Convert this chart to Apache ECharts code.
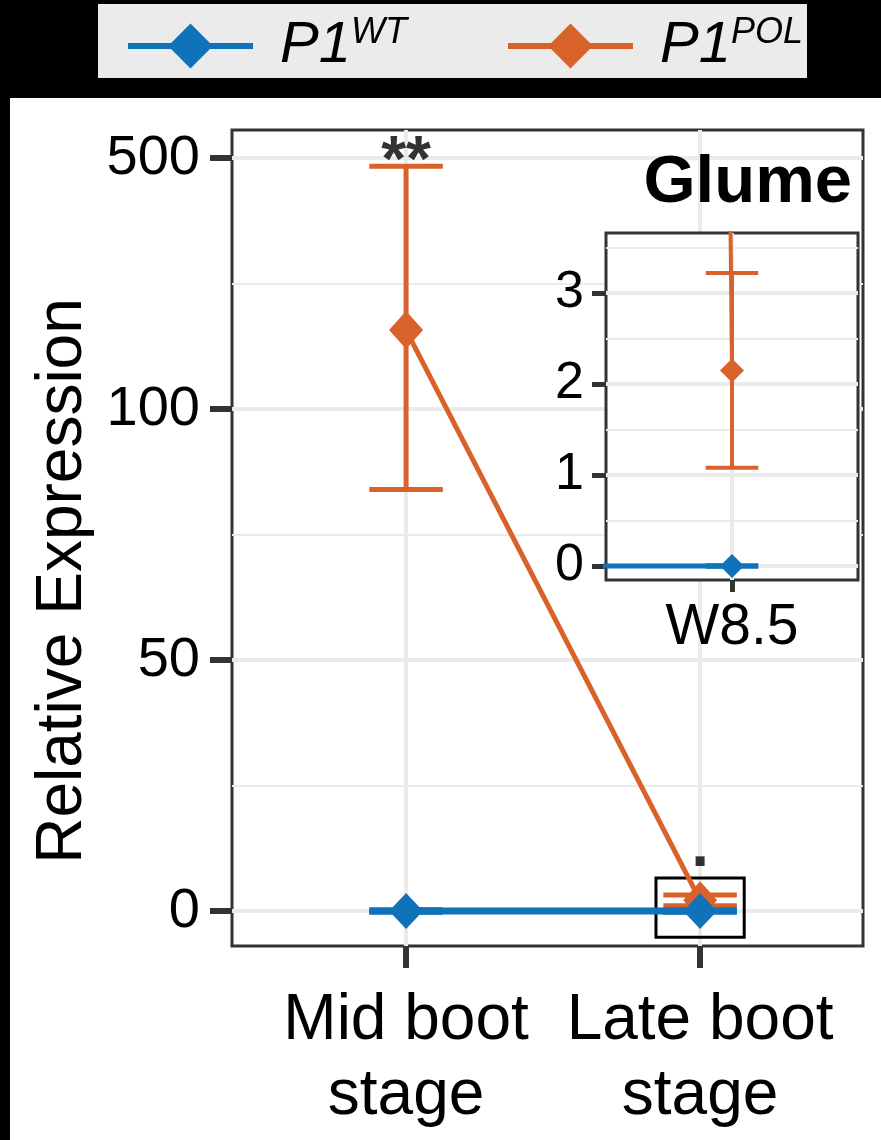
<!DOCTYPE html>
<html>
<head>
<meta charset="utf-8">
<title>Glume relative expression</title>
<script src="https://cdn.jsdelivr.net/npm/echarts@6/dist/echarts.min.js"></script>
<style>
  html, body { margin: 0; padding: 0; background: #000; }
  #chart { width: 881px; height: 1140px; }
</style>
</head>
<body>
<div id="chart"></div>
<script>
// stages (main panel positions 1, 2) and the single inset stage
const stages = ['Mid boot\nstage', 'Late boot\nstage'];
const stageX = [1, 2];
const insetStage = 'W8.5';
const insetX = [0, 1];

// series names and legend text (base + superscript)
const seriesNames = ['P1WT', 'P1POL'];
const legendBase = ['P1', 'P1'];
const legendSup = ['WT', 'POL'];

// P1 WT
const wtMean = [0, 0];
const wtLow = [0, 0];
const wtHigh = [0, 0];

// P1 POL
const polMean = [226, 2.15];
const polLow = [84, 1.08];
const polHigh = [487, 3.22];

// significance marks above P1 POL
const signif = ['**', '.'];

// y axis breaks of the main panel (drawn equally spaced)
const yTicks = [0, 50, 100, 500];
const yMinor = [25, 75, 300];
const insetTicks = [0, 1, 2, 3];
const insetMinor = [0.5, 1.5, 2.5, 3.5];

// box around the late boot point that the inset zooms into
const zoomX = [1.85, 2.15];
const zoomY = [-5.2, 6.6];

const FONT = '"Liberation Sans", Arial, Helvetica, sans-serif';
const BLUE = '#1072b8';
const ORANGE = '#d9622a';
const INK = '#333333';
const GRID = '#ebebeb';

// piecewise linear scale: each break interval gets the same height
function t(v) {
  const b = yTicks;
  let i = 0;
  while (i < b.length - 2 && v > b[i + 1]) i++;
  return i + (v - b[i]) / (b[i + 1] - b[i]);
}
const ident = v => v;

function errorBars(name, color, xs, low, high, scale, gridIdx, yIdx, lw, z) {
  return {
    type: 'custom',
    name: name,
    xAxisIndex: gridIdx,
    yAxisIndex: yIdx,
    clip: true,
    silent: true,
    z: z,
    data: xs.map((x, i) => [x, scale(low[i]), scale(high[i])]),
    encode: { x: 0, y: [1, 2] },
    renderItem(params, api) {
      const x = api.value(0);
      const lo = api.coord([x, api.value(1)]);
      const hi = api.coord([x, api.value(2)]);
      const half = api.coord([x + 0.125, api.value(1)])[0] - lo[0];
      const style = { stroke: color, lineWidth: lw };
      return {
        type: 'group',
        children: [
          { type: 'line', shape: { x1: lo[0], y1: lo[1], x2: hi[0], y2: hi[1] }, style },
          { type: 'line', shape: { x1: lo[0] - half, y1: lo[1], x2: lo[0] + half, y2: lo[1] }, style },
          { type: 'line', shape: { x1: hi[0] - half, y1: hi[1], x2: hi[0] + half, y2: hi[1] }, style }
        ]
      };
    }
  };
}

function meanLine(name, color, xs, mean, scale, gridIdx, yIdx, lw, size, z) {
  return {
    type: 'line',
    name: name,
    xAxisIndex: gridIdx,
    yAxisIndex: yIdx,
    clip: true,
    z: z,
    data: xs.map((x, i) => [x, scale(mean[i])]),
    symbol: 'diamond',
    symbolSize: size,
    showAllSymbol: true,
    itemStyle: { color: color },
    lineStyle: { color: color, width: lw },
    emphasis: { disabled: true }
  };
}

function legendFor(i, left) {
  return {
    data: [seriesNames[i]],
    left: left,
    top: 10,
    itemWidth: 125,
    itemHeight: 56,
    selectedMode: false,
    lineStyle: { width: 6 },
    formatter: () => '{b|' + legendBase[i] + '}{s|' + legendSup[i] + '}',
    textStyle: {
      padding: [0, 0, 0, 22],
      rich: {
        b: { fontFamily: FONT, fontStyle: 'italic', fontSize: 58, color: '#000', lineHeight: 62 },
        s: { fontFamily: FONT, fontStyle: 'italic', fontSize: 36, color: '#000', lineHeight: 36, verticalAlign: 'top' }
      }
    }
  };
}

const chart = echarts.init(document.getElementById('chart'));

const option = {
  backgroundColor: '#000',
  animation: false,
  graphic: [
    { type: 'rect', z: -10, shape: { x: 10, y: 98, width: 871, height: 1042 }, style: { fill: '#fff' } },
    { type: 'rect', z: -10, shape: { x: 98, y: 4, width: 709, height: 74 }, style: { fill: '#ebebeb' } }
  ],
  title: {
    text: 'Glume',
    right: 24,
    top: 145,
    textStyle: { fontFamily: FONT, fontWeight: 'bold', fontSize: 67, color: '#000' }
  },
  legend: [legendFor(0, 120), legendFor(1, 500)],
  grid: [
    { left: 232, top: 130, width: 631, height: 816, show: true, backgroundColor: '#fff', borderColor: INK, borderWidth: 3, z: 0 },
    { left: 606, top: 233, width: 252, height: 347, show: true, backgroundColor: '#fff', borderColor: INK, borderWidth: 3, z: 3 }
  ],
  xAxis: [
    {
      type: 'value', gridIndex: 0, min: 0.408, max: 2.554,
      axisLine: { show: false, onZero: false },
      axisTick: { customValues: stageX, length: 22, lineStyle: { color: INK, width: 6 } },
      axisLabel: {
        customValues: stageX,
        formatter: v => stages[stageX.indexOf(v)],
        margin: 38, fontFamily: FONT, fontSize: 64, lineHeight: 75, color: '#000'
      },
      splitLine: { show: true, lineStyle: { color: GRID, width: 4 } }
    },
    {
      type: 'value', gridIndex: 1, min: 0.4, max: 1.6, z: 4,
      axisLine: { show: false, onZero: false },
      axisTick: { customValues: [insetX[1]], length: 12, lineStyle: { color: INK, width: 5 } },
      axisLabel: {
        customValues: [insetX[1]],
        formatter: () => insetStage,
        margin: 20, fontFamily: FONT, fontSize: 57, color: '#000'
      },
      splitLine: { show: true, lineStyle: { color: GRID, width: 4 } }
    }
  ],
  yAxis: [
    {
      type: 'value', gridIndex: 0, min: -0.139, max: 3.112,
      name: 'Relative Expression', nameLocation: 'middle', nameGap: 134,
      nameTextStyle: { fontFamily: FONT, fontSize: 64, color: '#000', padding: [0, 86, 0, 0] },
      axisLine: { show: false, onZero: false },
      axisTick: { customValues: yTicks.map(t), length: 22, lineStyle: { color: INK, width: 6 } },
      axisLabel: {
        customValues: yTicks.map(t),
        formatter: v => String(yTicks[yTicks.map(t).findIndex(p => Math.abs(p - v) < 1e-6)]),
        margin: 32, fontFamily: FONT, fontSize: 56, color: '#000'
      },
      splitLine: { show: true, lineStyle: { color: GRID, width: 4 } }
    },
    {
      type: 'value', gridIndex: 0, min: -0.139, max: 3.112, position: 'right',
      axisLine: { show: false, onZero: false },
      axisTick: { show: false, customValues: yMinor.map(t) },
      axisLabel: { show: false },
      splitLine: { show: true, lineStyle: { color: GRID, width: 2 } }
    },
    {
      type: 'value', gridIndex: 1, min: -0.154, max: 3.66, z: 4,
      axisLine: { show: false, onZero: false },
      axisTick: { customValues: insetTicks, length: 14, lineStyle: { color: INK, width: 5 } },
      axisLabel: {
        customValues: insetTicks,
        margin: 22, fontFamily: FONT, fontSize: 52, color: '#000'
      },
      splitLine: { show: true, lineStyle: { color: GRID, width: 4 } }
    },
    {
      type: 'value', gridIndex: 1, min: -0.154, max: 3.66, position: 'right', z: 4,
      axisLine: { show: false, onZero: false },
      axisTick: { show: false, customValues: insetMinor },
      axisLabel: { show: false },
      splitLine: { show: true, lineStyle: { color: GRID, width: 2 } }
    }
  ],
  series: [
    // main panel
    errorBars('P1POL err', ORANGE, stageX, polLow, polHigh, t, 0, 0, 5, 2),
    meanLine(seriesNames[1], ORANGE, stageX, polMean, t, 0, 0, 5, [34, 38], 3),
    errorBars('P1WT err', BLUE, stageX, wtLow, wtHigh, t, 0, 0, 7, 4),
    Object.assign(meanLine(seriesNames[0], BLUE, stageX, wtMean, t, 0, 0, 7, [34, 36], 5), {
      markArea: {
        silent: true,
        itemStyle: { color: 'rgba(0,0,0,0)', borderColor: '#000', borderWidth: 3 },
        data: [[{ coord: [zoomX[0], t(zoomY[0])] }, { coord: [zoomX[1], t(zoomY[1])] }]]
      }
    }),
    {
      type: 'scatter', name: 'signif', xAxisIndex: 0, yAxisIndex: 0, z: 6, silent: true,
      symbolSize: 1, itemStyle: { color: 'rgba(0,0,0,0)' },
      data: stageX.map((x, i) => ({
        value: [x, t(polHigh[i])],
        label: { offset: i === 0 ? [0, 34] : [0, -10] }
      })),
      label: {
        show: true, position: 'top', distance: 4,
        formatter: p => signif[p.dataIndex],
        fontFamily: FONT, fontSize: 64, fontWeight: 'bold', color: '#000'
      }
    },
    // inset panel
    errorBars('P1POL err inset', ORANGE, insetX, polLow, polHigh, ident, 1, 2, 4, 10),
    meanLine('P1POL inset', ORANGE, insetX, polMean, ident, 1, 2, 4, [24, 24], 11),
    errorBars('P1WT err inset', BLUE, insetX, wtLow, wtHigh, ident, 1, 2, 5, 12),
    meanLine('P1WT inset', BLUE, insetX, wtMean, ident, 1, 2, 5, [24, 24], 13)
  ]
};

chart.setOption(option);
</script>
</body>
</html>
